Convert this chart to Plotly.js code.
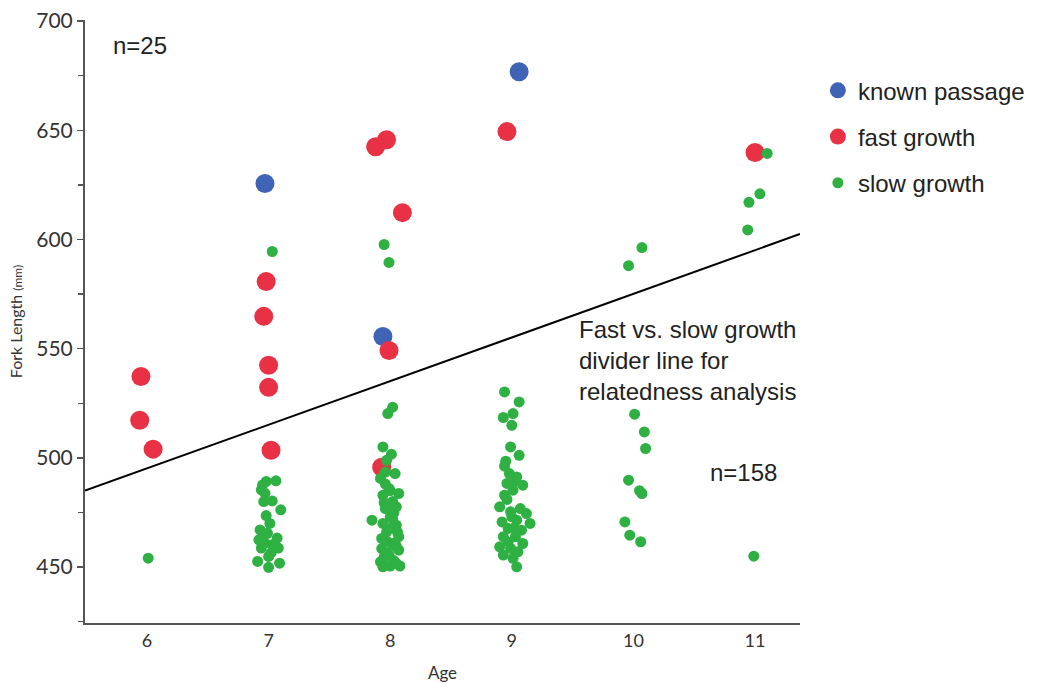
<!DOCTYPE html>
<html>
<head>
<meta charset="utf-8">
<script src="https://cdn.plot.ly/plotly-3.0.1.min.js"></script>
<style>html,body{margin:0;padding:0;background:#fff;}#chart{width:1039px;height:690px;}</style>
</head>
<body>
<div id="chart"></div>
<script>
// Known passage
const knownAge = [6.97, 7.94, 9.06];
const knownLen = [625.6, 555.6, 676.8];

// Fast growth
const fastAge = [5.95, 5.94, 6.05, 6.98, 6.96, 7.0, 7.0, 7.02, 7.88, 7.97, 8.1, 7.99, 7.93, 8.96, 11.0];
const fastLen = [537.3, 517.2, 504.0, 580.8, 564.8, 542.4, 532.3, 503.5, 642.5, 645.7, 612.3, 549.2, 495.7, 649.4, 639.8];

// Slow growth
const slowAge = [
  6.01,
  7.03,
  7.06, 6.98, 6.94, 6.97, 6.96, 7.03, 7.10, 6.98, 6.93, 6.99, 7.07, 6.92, 6.94, 7.03, 7.08, 7.00, 6.91, 7.00, 7.09, 6.97, 6.95, 7.01, 7.02, 6.96,
  7.95, 7.99, 8.02, 7.98,
  7.94, 8.01, 7.97, 8.04, 7.92, 7.99, 8.07, 7.94, 8.05, 7.96, 7.85, 8.00, 7.94, 8.05, 7.97, 8.07, 7.93, 8.01, 7.93, 8.07, 7.99, 7.92, 8.05, 8.00, 7.94, 8.08, 8.03, 7.99, 8.02, 7.96, 8.04, 7.98, 8.03, 7.95, 8.06, 8.00, 7.97, 8.02, 7.95, 8.05, 8.01, 7.96,
  8.94, 9.06, 9.01, 8.93, 9.00, 8.99, 9.06, 8.94, 8.98, 9.04, 9.09, 8.96, 9.01, 8.94, 8.90, 9.07, 8.99, 9.12, 9.15, 9.04, 8.92, 8.97, 9.08, 8.93, 9.03, 9.09, 8.90, 8.99, 8.93, 9.01, 9.04, 8.96, 9.02, 8.95, 9.05, 9.00, 8.97, 9.03,
  9.96, 10.07, 10.01, 10.09, 10.10, 9.96, 10.07, 10.05, 9.93, 9.97, 10.06,
  11.10, 11.04, 10.95, 10.94, 10.99
];
const slowLen = [
  454.1,
  594.5,
  489.5, 489.2, 485.4, 483.8, 480.0, 480.3, 476.2, 473.6, 467.0, 465.5, 463.3, 462.5, 458.7, 460.2, 458.7, 454.9, 452.6, 449.9, 451.8, 461.0, 487.6, 470.0, 456.5, 465.0,
  597.7, 589.5, 523.2, 520.3,
  505.0, 501.7, 498.9, 492.8, 490.6, 486.0, 483.7, 482.9, 477.6, 476.8, 471.5, 473.0, 470.0, 469.2, 466.1, 463.9, 463.1, 460.8, 458.5, 457.8, 455.5, 452.4, 451.7, 450.5, 450.1, 450.5, 475.0, 467.7, 480.0, 488.0, 461.0, 456.5, 453.0, 479.5, 466.0, 485.0, 462.0, 472.0, 454.5, 459.5, 477.0, 493.5,
  530.2, 525.6, 520.3, 518.5, 514.9, 505.0, 501.2, 496.2, 492.8, 491.3, 487.5, 488.3, 485.2, 482.9, 477.6, 476.8, 475.3, 474.5, 470.0, 471.5, 470.7, 467.7, 466.9, 463.9, 463.9, 460.8, 459.3, 458.6, 455.5, 454.0, 450.1, 481.0, 468.0, 498.5, 457.0, 473.0, 461.5, 489.5,
  588.0, 596.3, 520.0, 511.9, 504.3, 489.8, 483.7, 485.0, 470.7, 464.6, 461.6,
  639.4, 620.9, 617.0, 604.4, 455.0
];

// Divider line
const dividerAge = [5.49, 11.37];
const dividerLen = [485.0, 602.5];

const yTickVals = [450, 500, 550, 600, 650, 700];
const xTickVals = [6, 7, 8, 9, 10, 11];

const annFont = {family: '"Liberation Sans", Arial, sans-serif', size: 24, color: '#222'};

const traces = [
  {x: dividerAge, y: dividerLen, mode: 'lines', line: {color: '#000', width: 2}, showlegend: false, hoverinfo: 'skip'},
  {x: knownAge, y: knownLen, mode: 'markers', name: 'known passage', legendgroup: 'a',
   marker: {color: '#3f63b5', size: 19}},
  {x: fastAge, y: fastLen, mode: 'markers', name: 'fast growth', legendgroup: 'b',
   marker: {color: '#e93145', size: 19}},
  {x: slowAge, y: slowLen, mode: 'markers', name: 'slow growth', legendgroup: 'c',
   marker: {color: '#2eb142', size: 11}}
];

const layout = {
  width: 1039, height: 690,
  margin: {l: 85, r: 239, t: 20, b: 67, autoexpand: false},
  paper_bgcolor: '#fff', plot_bgcolor: '#fff',
  font: {family: 'Lato, "Open Sans", sans-serif', color: '#333'},
  showlegend: true,
  legend: {x: 1.025, xanchor: 'left', y: 0.92, yanchor: 'top', tracegroupgap: 12,
           font: {family: '"Liberation Sans", Arial, sans-serif', size: 24, color: '#222'},
           itemsizing: 'trace'},
  xaxis: {
    range: [5.49, 11.37], tickvals: xTickVals, ticktext: xTickVals.map(String),
    showgrid: false, zeroline: false, showline: true, linecolor: '#555', linewidth: 2,
    ticks: '', tickfont: {size: 18, color: '#333'},
    title: {text: 'Age', font: {size: 17, color: '#333'}, standoff: 18}
  },
  yaxis: {
    range: [424.4, 700.5], tickvals: yTickVals, ticktext: yTickVals.map(String),
    showgrid: false, zeroline: false, showline: true, linecolor: '#555', linewidth: 2,
    ticks: 'outside', ticklen: 6, tickcolor: '#555', tickwidth: 1.5,
    minor: {dtick: 25, tick0: 425, ticks: 'outside', ticklen: 5, tickcolor: '#555', showgrid: false},
    tickfont: {size: 21, color: '#333'},
    title: {text: 'Fork Length <span style="font-size:12px">(mm)</span>', font: {size: 16, color: '#333'}, standoff: 10}
  },
  annotations: [
    {x: 5.70, y: 688.7, xref: 'x', yref: 'y', xanchor: 'left', yanchor: 'middle', showarrow: false,
     text: 'n=25', font: annFont},
    {x: 9.54, y: 544.6, xref: 'x', yref: 'y', xanchor: 'left', yanchor: 'middle', align: 'left', showarrow: false,
     text: 'Fast vs. slow growth<br>divider line for<br>relatedness analysis', font: annFont},
    {x: 10.61, y: 493.4, xref: 'x', yref: 'y', xanchor: 'left', yanchor: 'middle', showarrow: false,
     text: 'n=158', font: annFont}
  ]
};

Plotly.newPlot('chart', traces, layout, {displayModeBar: false, staticPlot: true});
</script>
</body>
</html>
